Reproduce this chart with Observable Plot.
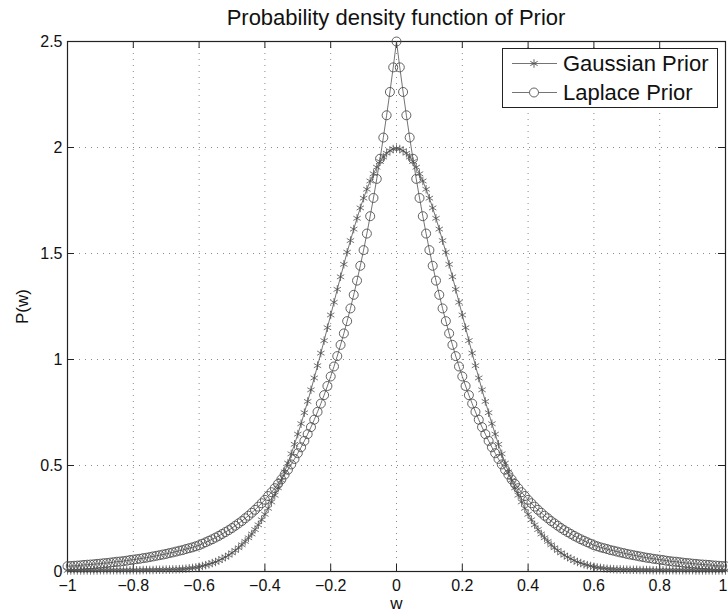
<!DOCTYPE html>
<html><head><meta charset="utf-8">
<script src="https://cdn.jsdelivr.net/npm/d3@7"></script>
<script src="https://cdn.jsdelivr.net/npm/@observablehq/plot@0.6"></script>
<style>
html,body{margin:0;padding:0;background:#fff;}
#wrap{position:relative;width:728px;height:614px;overflow:hidden;font-family:"Liberation Sans",Arial,Helvetica,sans-serif;color:#111;}
#chart{position:absolute;left:0;top:0;}
#title{position:absolute;left:67px;width:658px;top:5px;text-align:center;font-size:22px;line-height:26px;}
#legend{position:absolute;left:502px;top:48px;}
</style></head><body>
<div id="wrap"><div id="chart"></div><div id="title">Probability density function of Prior</div><div id="legend"></div></div>
<script>
const titleText = "Probability density function of Prior";
const seriesNames = ["Gaussian Prior", "Laplace Prior"];
const xLabel = "w";
const yLabel = "P(w)";
const xTicks = [-1, -0.8, -0.6, -0.4, -0.2, 0, 0.2, 0.4, 0.6, 0.8, 1];
const xTickLabels = ["\u22121", "\u22120.8", "\u22120.6", "\u22120.4", "\u22120.2", "0", "0.2", "0.4", "0.6", "0.8", "1"];
const yTicks = [0, 0.5, 1, 1.5, 2, 2.5];
const yTickLabels = ["0", "0.5", "1", "1.5", "2", "2.5"];

const w = [-1.00,-0.99,-0.98,-0.97,-0.96,-0.95,-0.94,-0.93,-0.92,-0.91,
-0.90,-0.89,-0.88,-0.87,-0.86,-0.85,-0.84,-0.83,-0.82,-0.81,
-0.80,-0.79,-0.78,-0.77,-0.76,-0.75,-0.74,-0.73,-0.72,-0.71,
-0.70,-0.69,-0.68,-0.67,-0.66,-0.65,-0.64,-0.63,-0.62,-0.61,
-0.60,-0.59,-0.58,-0.57,-0.56,-0.55,-0.54,-0.53,-0.52,-0.51,
-0.50,-0.49,-0.48,-0.47,-0.46,-0.45,-0.44,-0.43,-0.42,-0.41,
-0.40,-0.39,-0.38,-0.37,-0.36,-0.35,-0.34,-0.33,-0.32,-0.31,
-0.30,-0.29,-0.28,-0.27,-0.26,-0.25,-0.24,-0.23,-0.22,-0.21,
-0.20,-0.19,-0.18,-0.17,-0.16,-0.15,-0.14,-0.13,-0.12,-0.11,
-0.10,-0.09,-0.08,-0.07,-0.06,-0.05,-0.04,-0.03,-0.02,-0.01,
0.00,
0.01,0.02,0.03,0.04,0.05,0.06,0.07,0.08,0.09,0.10,
0.11,0.12,0.13,0.14,0.15,0.16,0.17,0.18,0.19,0.20,
0.21,0.22,0.23,0.24,0.25,0.26,0.27,0.28,0.29,0.30,
0.31,0.32,0.33,0.34,0.35,0.36,0.37,0.38,0.39,0.40,
0.41,0.42,0.43,0.44,0.45,0.46,0.47,0.48,0.49,0.50,
0.51,0.52,0.53,0.54,0.55,0.56,0.57,0.58,0.59,0.60,
0.61,0.62,0.63,0.64,0.65,0.66,0.67,0.68,0.69,0.70,
0.71,0.72,0.73,0.74,0.75,0.76,0.77,0.78,0.79,0.80,
0.81,0.82,0.83,0.84,0.85,0.86,0.87,0.88,0.89,0.90,
0.91,0.92,0.93,0.94,0.95,0.96,0.97,0.98,0.99,1.00];

const gaussian = [0.005,0.005,0.005,0.005,0.005,0.005,0.005,0.005,0.005,0.005,
0.006,0.006,0.006,0.006,0.006,0.006,0.006,0.006,0.006,0.006,
0.006,0.006,0.006,0.007,0.007,0.007,0.007,0.008,0.008,0.008,
0.009,0.009,0.010,0.010,0.011,0.012,0.013,0.015,0.017,0.019,
0.022,0.026,0.030,0.034,0.040,0.045,0.052,0.060,0.068,0.077,
0.088,0.099,0.112,0.126,0.142,0.159,0.177,0.198,0.220,0.244,
0.270,0.298,0.328,0.360,0.395,0.431,0.470,0.511,0.555,0.600,
0.648,0.697,0.749,0.802,0.857,0.913,0.971,1.030,1.089,1.150,
1.210,1.270,1.331,1.390,1.449,1.506,1.561,1.615,1.666,1.715,
1.761,1.803,1.842,1.876,1.907,1.934,1.955,1.973,1.985,1.993,
1.995,
1.993,1.985,1.973,1.955,1.934,1.907,1.876,1.842,1.803,1.761,
1.715,1.666,1.615,1.561,1.506,1.449,1.390,1.331,1.270,1.210,
1.150,1.089,1.030,0.971,0.913,0.857,0.802,0.749,0.697,0.648,
0.600,0.555,0.511,0.470,0.431,0.395,0.360,0.328,0.298,0.270,
0.244,0.220,0.198,0.177,0.159,0.142,0.126,0.112,0.099,0.088,
0.077,0.068,0.060,0.052,0.045,0.040,0.034,0.030,0.026,0.022,
0.019,0.017,0.015,0.013,0.012,0.011,0.010,0.010,0.009,0.009,
0.008,0.008,0.008,0.007,0.007,0.007,0.007,0.006,0.006,0.006,
0.006,0.006,0.006,0.006,0.006,0.006,0.006,0.006,0.006,0.006,
0.005,0.005,0.005,0.005,0.005,0.005,0.005,0.005,0.005,0.005];

const laplace = [0.025,0.026,0.027,0.028,0.029,0.031,0.032,0.033,0.034,0.036,
0.037,0.039,0.040,0.042,0.044,0.046,0.047,0.049,0.051,0.054,
0.056,0.058,0.060,0.063,0.065,0.068,0.071,0.074,0.077,0.080,
0.083,0.087,0.090,0.094,0.098,0.101,0.106,0.110,0.114,0.119,
0.124,0.131,0.138,0.145,0.152,0.160,0.168,0.177,0.186,0.195,
0.205,0.216,0.227,0.238,0.251,0.263,0.277,0.291,0.306,0.322,
0.338,0.356,0.374,0.393,0.413,0.434,0.457,0.480,0.505,0.531,
0.558,0.586,0.616,0.648,0.681,0.716,0.753,0.792,0.832,0.875,
0.920,0.967,1.016,1.069,1.123,1.181,1.241,1.305,1.372,1.442,
1.516,1.594,1.676,1.762,1.852,1.947,2.047,2.152,2.262,2.378,
2.500,
2.378,2.262,2.152,2.047,1.947,1.852,1.762,1.676,1.594,1.516,
1.442,1.372,1.305,1.241,1.181,1.123,1.069,1.016,0.967,0.920,
0.875,0.832,0.792,0.753,0.716,0.681,0.648,0.616,0.586,0.558,
0.531,0.505,0.480,0.457,0.434,0.413,0.393,0.374,0.356,0.338,
0.322,0.306,0.291,0.277,0.263,0.251,0.238,0.227,0.216,0.205,
0.195,0.186,0.177,0.168,0.160,0.152,0.145,0.138,0.131,0.124,
0.119,0.114,0.110,0.106,0.101,0.098,0.094,0.090,0.087,0.083,
0.080,0.077,0.074,0.071,0.068,0.065,0.063,0.060,0.058,0.056,
0.054,0.051,0.049,0.047,0.046,0.044,0.042,0.040,0.039,0.037,
0.036,0.034,0.033,0.032,0.031,0.029,0.028,0.027,0.026,0.025];

const gData = w.map((x, i) => ({x, y: gaussian[i]}));
const lData = w.map((x, i) => ({x, y: laplace[i]}));
const xTickRows = xTicks.map((t, i) => ({t, label: xTickLabels[i]}));
const lastTick = xTickRows.slice(-1);
const otherTicks = xTickRows.slice(0, -1);

const lineColor = "#505050";
const grid = {stroke: "#8a8a8a", strokeOpacity: 1, strokeWidth: 1, strokeDasharray: "1,5"};
const tickText = {y: () => 0, text: "label", lineAnchor: "top", dy: 8, fontSize: 16, fill: "#111"};

const chart = Plot.plot({
  width: 728, height: 614,
  marginLeft: 67, marginRight: 3, marginTop: 41, marginBottom: 43,
  style: {fontFamily: "'Liberation Sans', Arial, Helvetica, sans-serif", fontSize: "16px", background: "white", color: "#111"},
  x: {domain: [-1, 1], axis: null},
  y: {domain: [0, 2.5], ticks: yTicks, tickFormat: d => yTickLabels[yTicks.indexOf(d)], tickSize: 0, tickPadding: 5, label: null},
  marks: [
    Plot.ruleX(xTicks, grid),
    Plot.ruleY(yTicks, grid),
    Plot.ruleX(xTicks, {stroke: "#222", insetTop: 523}),
    Plot.ruleX(xTicks, {stroke: "#222", insetBottom: 523}),
    Plot.ruleY(yTicks, {stroke: "#222", insetRight: 651}),
    Plot.ruleY(yTicks, {stroke: "#222", insetLeft: 651}),
    Plot.frame({stroke: "#222", strokeWidth: 1.2}),
    Plot.text(otherTicks, {...tickText, x: "t", textAnchor: "middle"}),
    Plot.text(lastTick, {...tickText, x: "t", textAnchor: "end", dx: 2}),
    Plot.line(gData, {x: "x", y: "y", stroke: lineColor, strokeWidth: 0.8}),
    Plot.dot(gData, {x: "x", y: "y", symbol: "asterisk", r: 4, stroke: lineColor, strokeWidth: 0.8}),
    Plot.line(lData, {x: "x", y: "y", stroke: lineColor, strokeWidth: 0.8}),
    Plot.dot(lData, {x: "x", y: "y", symbol: "circle", r: 4.5, fill: "none", stroke: lineColor, strokeWidth: 0.9}),
    Plot.text([yLabel], {frameAnchor: "left", rotate: -90, dx: -45, textAnchor: "middle", lineAnchor: "middle", fontSize: 17, fill: "#111"}),
    Plot.text([xLabel], {frameAnchor: "bottom", dy: 32, textAnchor: "middle", lineAnchor: "middle", fontSize: 17, fill: "#111"})
  ]
});
document.getElementById("chart").appendChild(chart);
document.getElementById("title").textContent = titleText;

// legend
const lg = d3.select("#legend").append("svg").attr("width", 216).attr("height", 60);
lg.append("rect").attr("x", 0.5).attr("y", 0.5).attr("width", 215).attr("height", 59).attr("fill", "white").attr("stroke", "#222");
const rows = [{name: seriesNames[0], sym: d3.symbolAsterisk, size: Math.PI * 16},
              {name: seriesNames[1], sym: d3.symbolCircle, size: Math.PI * 4.5 * 4.5}];
rows.forEach((r, i) => {
  const cy = 15.5 + i * 29;
  lg.append("line").attr("x1", 10).attr("x2", 55).attr("y1", cy).attr("y2", cy).attr("stroke", lineColor).attr("stroke-width", 0.8);
  lg.append("path").attr("d", d3.symbol(r.sym, r.size)()).attr("transform", `translate(32,${cy})`).attr("fill", r.sym === d3.symbolCircle ? "white" : "none").attr("stroke", lineColor).attr("stroke-width", 0.9);
  lg.append("text").attr("x", 61).attr("y", cy).attr("dy", "0.36em").attr("font-size", 22).attr("fill", "#111")
    .attr("font-family", "'Liberation Sans', Arial, Helvetica, sans-serif").text(r.name);
});
</script>
</body></html>
